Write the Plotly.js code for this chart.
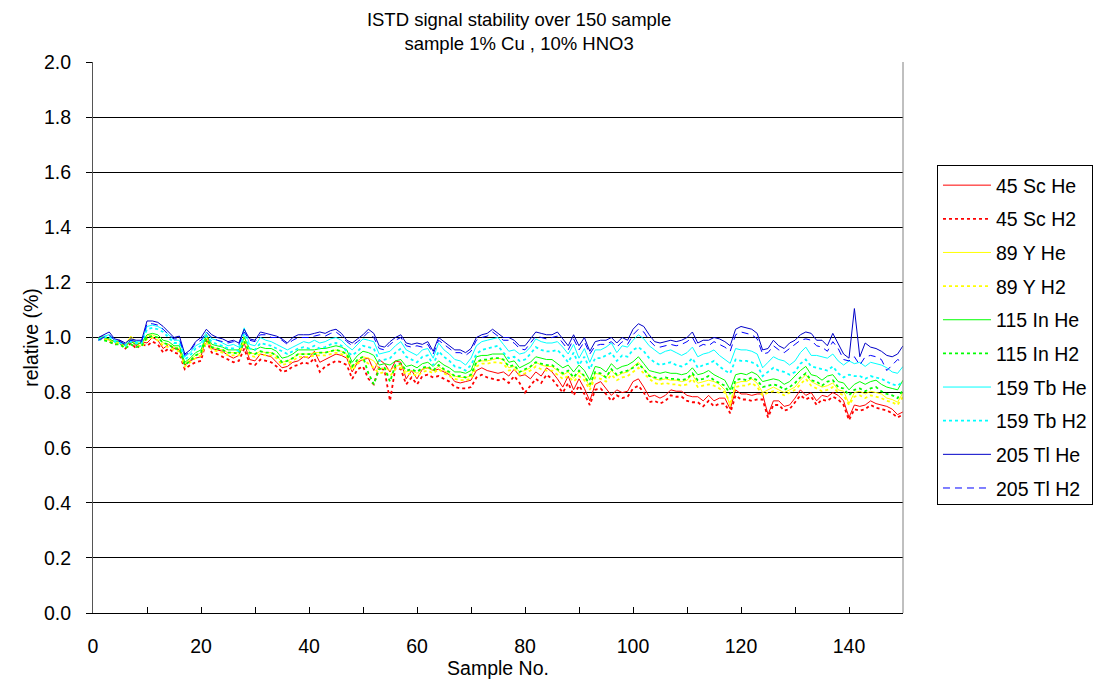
<!DOCTYPE html>
<html>
<head>
<meta charset="utf-8">
<script src="https://cdn.plot.ly/plotly-3.0.1.min.js"></script>
<style>html,body{margin:0;padding:0;background:#fff;}#chart{width:1095px;height:680px;}</style>
</head>
<body>
<div id="chart"></div>
<script>
// Sample numbers (x categories)
var sampleNo = [1,2,3,4,5,6,7,8,9,10,11,12,13,14,15,16,17,18,19,20,21,22,23,24,25,
26,27,28,29,30,31,32,33,34,35,36,37,38,39,40,41,42,43,44,45,46,47,48,49,50,
51,52,53,54,55,56,57,58,59,60,61,62,63,64,65,66,67,68,69,70,71,72,73,74,75,
76,77,78,79,80,81,82,83,84,85,86,87,88,89,90,91,92,93,94,95,96,97,98,99,100,
101,102,103,104,105,106,107,108,109,110,111,112,113,114,115,116,117,118,119,120,
121,122,123,124,125,126,127,128,129,130,131,132,133,134,135,136,137,138,139,140,
141,142,143,144,145,146,147,148,149,150];

var sc45He = [1.0,1.005,0.99,0.985,0.99,0.97,0.99,0.97,0.985,0.98,1.0,0.99,0.96,0.975,0.96,0.955,0.90,0.915,0.925,0.93,1.01,0.96,0.955,0.95,0.935,
0.925,0.935,0.98,0.92,0.915,0.94,0.935,0.93,0.91,0.89,0.895,0.91,0.915,0.93,0.925,0.95,0.91,0.92,0.93,0.94,0.935,0.925,0.875,0.91,0.92,
0.925,0.88,0.92,0.905,0.875,0.915,0.91,0.85,0.88,0.85,0.885,0.89,0.88,0.885,0.875,0.865,0.84,0.835,0.84,0.845,0.88,0.89,0.88,0.875,0.87,
0.875,0.86,0.885,0.86,0.865,0.85,0.875,0.86,0.89,0.875,0.85,0.82,0.86,0.81,0.85,0.815,0.77,0.83,0.84,0.815,0.79,0.81,0.80,0.805,0.84,
0.85,0.82,0.785,0.79,0.78,0.79,0.81,0.805,0.805,0.79,0.785,0.785,0.77,0.79,0.77,0.78,0.78,0.74,0.81,0.795,0.795,0.79,0.795,0.795,0.72,
0.77,0.77,0.75,0.755,0.78,0.81,0.79,0.80,0.77,0.79,0.785,0.80,0.79,0.77,0.71,0.755,0.75,0.755,0.77,0.76,0.755,0.75,0.74,0.72,0.73];

var sc45H2 = [0.995,0.995,0.985,0.975,0.98,0.96,0.98,0.96,0.975,0.97,0.985,0.975,0.945,0.96,0.945,0.94,0.885,0.90,0.91,0.915,0.99,0.945,0.94,0.93,0.92,
0.91,0.915,0.96,0.905,0.90,0.92,0.915,0.91,0.895,0.875,0.88,0.895,0.90,0.91,0.905,0.925,0.875,0.895,0.905,0.915,0.91,0.90,0.85,0.885,0.895,
0.85,0.83,0.895,0.88,0.77,0.89,0.885,0.83,0.855,0.83,0.86,0.865,0.855,0.86,0.85,0.84,0.82,0.815,0.815,0.82,0.855,0.865,0.855,0.85,0.845,
0.85,0.835,0.86,0.835,0.80,0.825,0.85,0.835,0.865,0.85,0.825,0.80,0.835,0.79,0.825,0.795,0.755,0.81,0.815,0.795,0.77,0.79,0.78,0.785,0.815,
0.825,0.80,0.765,0.77,0.76,0.77,0.79,0.785,0.785,0.77,0.765,0.765,0.75,0.77,0.75,0.76,0.76,0.725,0.79,0.775,0.775,0.77,0.775,0.775,0.71,
0.755,0.755,0.735,0.74,0.765,0.79,0.775,0.785,0.755,0.775,0.77,0.785,0.775,0.755,0.70,0.74,0.735,0.74,0.755,0.745,0.74,0.735,0.725,0.71,0.72];

var y89He = [1.0,1.0,0.99,0.985,0.98,0.975,1.005,0.985,0.975,1.005,1.01,1.0,0.98,0.975,0.965,0.96,0.905,0.92,0.935,0.945,1.0,0.965,0.96,0.955,0.945,
0.945,0.945,1.005,0.945,0.94,0.95,0.945,0.945,0.935,0.91,0.915,0.925,0.94,0.94,0.94,0.945,0.945,0.945,0.95,0.955,0.95,0.94,0.89,0.915,0.93,
0.925,0.915,0.885,0.89,0.88,0.895,0.90,0.875,0.88,0.87,0.885,0.89,0.88,0.895,0.88,0.87,0.86,0.855,0.855,0.86,0.91,0.915,0.915,0.92,0.925,
0.92,0.89,0.895,0.875,0.88,0.89,0.91,0.90,0.895,0.895,0.88,0.864,0.875,0.852,0.875,0.86,0.82,0.87,0.865,0.855,0.88,0.86,0.87,0.875,0.894,
0.91,0.885,0.864,0.85,0.845,0.85,0.845,0.845,0.84,0.845,0.864,0.834,0.84,0.845,0.84,0.83,0.81,0.75,0.834,0.84,0.84,0.85,0.834,0.80,0.81,
0.82,0.81,0.80,0.81,0.82,0.845,0.865,0.84,0.83,0.82,0.825,0.835,0.81,0.805,0.76,0.80,0.805,0.795,0.805,0.80,0.795,0.78,0.775,0.765,0.80];

var y89H2 = [0.995,0.995,0.985,0.98,0.975,0.965,0.995,0.975,0.965,0.995,1.0,0.99,0.97,0.965,0.955,0.95,0.895,0.91,0.925,0.935,0.985,0.955,0.95,0.945,0.935,
0.935,0.935,0.99,0.935,0.93,0.94,0.935,0.935,0.925,0.90,0.905,0.915,0.93,0.93,0.93,0.935,0.935,0.935,0.94,0.945,0.94,0.93,0.88,0.905,0.92,
0.905,0.89,0.87,0.875,0.86,0.885,0.89,0.865,0.87,0.86,0.875,0.88,0.87,0.885,0.87,0.86,0.85,0.845,0.845,0.85,0.895,0.905,0.905,0.91,0.91,
0.905,0.88,0.885,0.865,0.87,0.88,0.895,0.885,0.88,0.88,0.865,0.85,0.86,0.84,0.86,0.845,0.81,0.855,0.85,0.84,0.865,0.845,0.855,0.86,0.875,
0.89,0.87,0.85,0.835,0.83,0.835,0.83,0.83,0.825,0.83,0.85,0.82,0.825,0.83,0.825,0.815,0.80,0.765,0.82,0.825,0.825,0.835,0.82,0.79,0.80,
0.805,0.80,0.79,0.80,0.81,0.83,0.85,0.825,0.815,0.805,0.81,0.82,0.80,0.79,0.755,0.785,0.79,0.78,0.79,0.785,0.78,0.77,0.765,0.755,0.785];

var in115He = [1.0,1.0,0.995,0.985,0.985,0.97,0.985,0.975,0.98,1.01,1.015,1.01,0.99,0.985,0.97,0.97,0.91,0.925,0.945,0.955,1.01,0.975,0.97,0.965,0.955,
0.955,0.955,1.0,0.96,0.955,0.965,0.96,0.96,0.95,0.925,0.93,0.94,0.955,0.955,0.955,0.955,0.96,0.96,0.965,0.97,0.965,0.955,0.91,0.935,0.95,
0.945,0.935,0.90,0.905,0.90,0.915,0.92,0.895,0.90,0.89,0.905,0.91,0.895,0.915,0.90,0.89,0.875,0.875,0.87,0.88,0.93,0.935,0.935,0.94,0.94,
0.94,0.91,0.915,0.89,0.90,0.91,0.93,0.925,0.92,0.92,0.905,0.89,0.90,0.875,0.90,0.88,0.845,0.895,0.89,0.875,0.905,0.885,0.895,0.90,0.912,
0.93,0.905,0.88,0.875,0.87,0.875,0.87,0.87,0.865,0.87,0.89,0.865,0.87,0.88,0.865,0.855,0.845,0.81,0.865,0.87,0.865,0.875,0.865,0.84,0.845,
0.85,0.845,0.83,0.84,0.86,0.88,0.895,0.865,0.86,0.845,0.86,0.865,0.84,0.835,0.81,0.83,0.84,0.83,0.84,0.845,0.83,0.82,0.815,0.81,0.845];

var in115H2 = [0.995,0.99,0.985,0.975,0.975,0.96,0.975,0.965,0.97,1.0,1.005,1.0,0.98,0.975,0.96,0.96,0.90,0.915,0.935,0.945,0.995,0.965,0.96,0.955,0.945,
0.945,0.94,0.985,0.945,0.94,0.95,0.945,0.945,0.935,0.91,0.915,0.925,0.94,0.94,0.94,0.94,0.945,0.945,0.95,0.955,0.95,0.94,0.895,0.92,0.93,
0.87,0.83,0.885,0.89,0.84,0.90,0.905,0.88,0.885,0.875,0.89,0.895,0.88,0.90,0.885,0.875,0.86,0.86,0.855,0.865,0.91,0.92,0.92,0.925,0.925,
0.92,0.895,0.90,0.875,0.885,0.895,0.91,0.905,0.90,0.90,0.885,0.87,0.88,0.855,0.88,0.86,0.83,0.875,0.87,0.855,0.885,0.865,0.875,0.88,0.89,
0.905,0.885,0.86,0.855,0.85,0.855,0.85,0.85,0.845,0.85,0.87,0.845,0.85,0.86,0.845,0.835,0.825,0.795,0.845,0.85,0.845,0.855,0.845,0.82,0.825,
0.83,0.825,0.81,0.82,0.835,0.855,0.87,0.845,0.84,0.825,0.84,0.845,0.82,0.815,0.79,0.81,0.815,0.805,0.815,0.82,0.805,0.795,0.79,0.78,0.81];

var tb159He = [0.995,1.005,1.01,0.99,0.985,0.975,0.99,0.985,0.985,1.04,1.045,1.04,1.03,1.01,0.99,0.99,0.93,0.945,0.97,0.98,1.02,0.995,0.99,0.98,0.97,
0.975,0.965,1.035,0.975,0.97,1.0,0.99,0.985,0.975,0.965,0.955,0.965,0.975,0.985,0.98,0.99,0.98,0.985,0.995,1.0,0.99,0.97,0.955,0.975,0.995,
0.99,0.985,0.94,0.945,0.95,0.97,0.985,0.955,0.945,0.935,0.955,0.96,0.925,0.98,0.955,0.94,0.92,0.915,0.90,0.925,0.97,0.985,0.99,0.995,1.0,
0.975,0.95,0.955,0.94,0.945,0.965,0.995,0.985,0.98,0.98,0.985,0.965,0.94,0.975,0.925,0.96,0.91,0.955,0.955,0.965,0.98,0.945,0.97,0.965,0.99,
1.01,0.995,0.97,0.955,0.94,0.95,0.955,0.945,0.935,0.945,0.965,0.93,0.94,0.945,0.955,0.935,0.92,0.906,0.96,0.955,0.955,0.95,0.94,0.89,0.91,
0.93,0.92,0.915,0.90,0.915,0.945,0.965,0.935,0.935,0.93,0.925,0.94,0.915,0.90,0.915,0.905,0.91,0.895,0.91,0.905,0.90,0.89,0.875,0.87,0.895];

var tb159H2 = [0.99,1.0,1.005,0.985,0.98,0.97,0.985,0.98,0.98,1.03,1.035,1.03,1.02,1.0,0.98,0.98,0.92,0.935,0.96,0.97,1.005,0.985,0.975,0.97,0.96,
0.96,0.95,1.015,0.96,0.955,0.98,0.975,0.97,0.96,0.95,0.94,0.95,0.96,0.965,0.96,0.97,0.96,0.965,0.975,0.98,0.97,0.95,0.935,0.95,0.97,
0.965,0.96,0.915,0.92,0.925,0.945,0.96,0.93,0.92,0.91,0.93,0.935,0.90,0.95,0.93,0.915,0.895,0.89,0.88,0.90,0.94,0.955,0.96,0.965,0.97,
0.945,0.925,0.93,0.915,0.92,0.94,0.965,0.955,0.95,0.95,0.955,0.935,0.91,0.945,0.90,0.93,0.885,0.925,0.925,0.935,0.945,0.915,0.935,0.93,0.955,
0.965,0.95,0.925,0.91,0.90,0.905,0.91,0.90,0.895,0.905,0.925,0.89,0.90,0.905,0.915,0.895,0.88,0.87,0.92,0.915,0.915,0.91,0.90,0.86,0.875,
0.89,0.88,0.875,0.865,0.875,0.905,0.92,0.895,0.89,0.885,0.88,0.895,0.87,0.855,0.865,0.86,0.86,0.85,0.86,0.855,0.85,0.84,0.83,0.825,0.84];

var tl205He = [1.0,1.01,1.02,0.995,0.99,0.98,0.995,0.99,0.99,1.06,1.06,1.055,1.04,1.02,1.0,1.005,0.94,0.955,0.985,1.0,1.03,1.01,1.0,0.995,0.985,
0.99,0.98,1.03,0.995,0.99,1.02,1.015,1.01,1.005,0.995,0.98,1.0,1.01,1.01,1.01,1.015,1.02,1.015,1.025,1.03,1.015,0.99,0.98,0.995,1.01,
1.03,1.015,0.97,0.965,0.985,1.0,1.01,0.98,0.975,0.98,0.975,0.985,0.95,1.0,0.985,0.97,0.955,0.955,0.945,0.96,1.0,1.01,1.015,1.03,1.015,
1.0,1.0,0.99,0.97,0.97,0.995,1.02,1.015,1.01,1.01,1.02,0.995,0.97,1.01,0.97,1.0,0.95,0.985,0.99,0.99,1.0,0.98,1.0,0.99,1.03,
1.05,1.04,1.01,0.985,0.98,0.985,0.99,0.985,0.99,1.0,1.02,0.98,0.99,0.99,1.0,0.995,0.985,0.97,1.03,1.04,1.035,1.03,1.015,0.955,0.96,
0.99,0.97,0.96,0.98,0.99,1.01,1.02,1.015,0.99,0.99,0.97,1.015,0.98,0.94,0.925,1.105,0.93,0.98,0.965,0.96,0.95,0.935,0.93,0.94,0.97];

var tl205H2 = [0.99,1.0,1.01,0.99,0.985,0.975,0.99,0.985,0.985,1.05,1.05,1.045,1.03,1.01,0.995,0.995,0.935,0.95,0.98,0.99,1.02,1.0,0.99,0.985,0.98,
0.985,0.975,1.02,0.99,0.985,1.01,1.01,1.0,1.0,0.99,0.975,0.99,1.0,1.0,1.0,1.005,1.01,1.005,1.015,1.02,1.005,0.985,0.97,0.985,1.0,
1.02,1.0,0.96,0.955,0.975,0.99,1.0,0.97,0.965,0.97,0.965,0.975,0.94,0.99,0.975,0.96,0.945,0.945,0.935,0.95,0.99,1.0,1.005,1.02,1.005,
0.99,0.99,0.98,0.96,0.955,0.98,1.005,1.0,0.995,1.0,1.005,0.98,0.955,0.995,0.955,0.985,0.94,0.97,0.975,0.975,0.985,0.965,0.985,0.975,1.01,
1.03,1.02,0.99,0.97,0.965,0.97,0.975,0.97,0.975,0.985,1.0,0.965,0.975,0.97,0.985,0.975,0.965,0.95,1.01,1.02,1.015,1.01,0.995,0.94,0.945,
0.97,0.955,0.945,0.96,0.975,0.99,0.995,0.99,0.97,0.965,0.95,0.985,0.96,0.92,0.915,0.93,0.90,0.93,0.935,0.93,0.92,0.88,0.90,0.92,0.91];

var seriesNames = ["45 Sc He","45 Sc H2","89 Y He","89 Y H2","115 In He","115 In H2","159 Tb He","159 Tb H2","205 Tl He","205 Tl H2"];
var seriesValues = [sc45He, sc45H2, y89He, y89H2, in115He, in115H2, tb159He, tb159H2, tl205He, tl205H2];
var seriesColors = ["#ff0000","#ff0000","#ffff00","#ffff00","#00ff00","#00ff00","#00ffff","#00ffff","#0000c8","#0000ff"];
var seriesDash = ["solid","3px,3px","solid","3px,3px","solid","3px,3px","solid","3px,3px","solid","7px,5px"];
var seriesWidth = [1,1.8,1,1.8,1,1.8,1,1.8,1,1];

var yTickVals = [0,0.2,0.4,0.6,0.8,1.0,1.2,1.4,1.6,1.8,2.0];
var yTickText = ["0.0","0.2","0.4","0.6","0.8","1.0","1.2","1.4","1.6","1.8","2.0"];

var FONT = "Liberation Sans, Arial, sans-serif";
var traces = seriesNames.map(function(n,i){
  return {
    type:"scatter", mode:"lines", name:n, x:sampleNo, y:seriesValues[i],
    legendgroup:"g"+i,
    line:{color:seriesColors[i], width:seriesWidth[i], dash:seriesDash[i]},
    hoverinfo:"skip"
  };
});

var layout = {
  width:1095, height:680,
  margin:{l:93, r:192, t:62, b:67, autoexpand:false},
  paper_bgcolor:"#fff", plot_bgcolor:"#fff",
  font:{family:FONT, size:19.5, color:"#000"},
  title:{
    text:"ISTD signal stability over 150 sample<br>sample 1% Cu , 10% HNO3",
    font:{family:FONT, size:18.5, color:"#000"},
    xref:"paper", x:0.526, xanchor:"center",
    yref:"container", y:0.962, yanchor:"top"
  },
  xaxis:{
    range:[0,150], dtick:20, tick0:0,
    ticks:"inside", ticklen:6, tickcolor:"#000", tickwidth:1,
    minor:{dtick:10, tick0:0, ticks:"inside", ticklen:6, tickcolor:"#000", showgrid:false},
    showgrid:false, zeroline:false,
    showline:true, linecolor:"#000", linewidth:1,
    tickfont:{family:FONT, size:19.5},
    ticklabelstandoff:16,
    title:{text:"Sample No.", font:{family:FONT, size:19.5}, standoff:0}
  },
  yaxis:{
    range:[0,2], tickvals:yTickVals, ticktext:yTickText,
    ticks:"outside", ticklen:6, tickcolor:"#000",
    showgrid:true, gridcolor:"#000", gridwidth:1,
    zeroline:false, showline:true, linecolor:"#555", linewidth:1,
    tickfont:{family:FONT, size:19.5},
    ticklabelstandoff:11,
    title:{text:"relative (%)", font:{family:FONT, size:19.5}, standoff:0}
  },
  showlegend:true,
  legend:{
    xref:"container", yref:"container",
    x:0.8557, xanchor:"left", y:0.7574, yanchor:"top",
    bordercolor:"#000", borderwidth:1, bgcolor:"#fff",
    font:{family:FONT, size:19.5, color:"#000"},
    itemwidth:48, tracegroupgap:5.3, traceorder:"grouped"
  },
  shapes:[{type:"line", xref:"paper", yref:"paper", x0:1, x1:1, y0:0, y1:1, line:{color:"#808080", width:1}}]
};

Plotly.newPlot("chart", traces, layout, {staticPlot:true, displayModeBar:false});
</script>
</body>
</html>
